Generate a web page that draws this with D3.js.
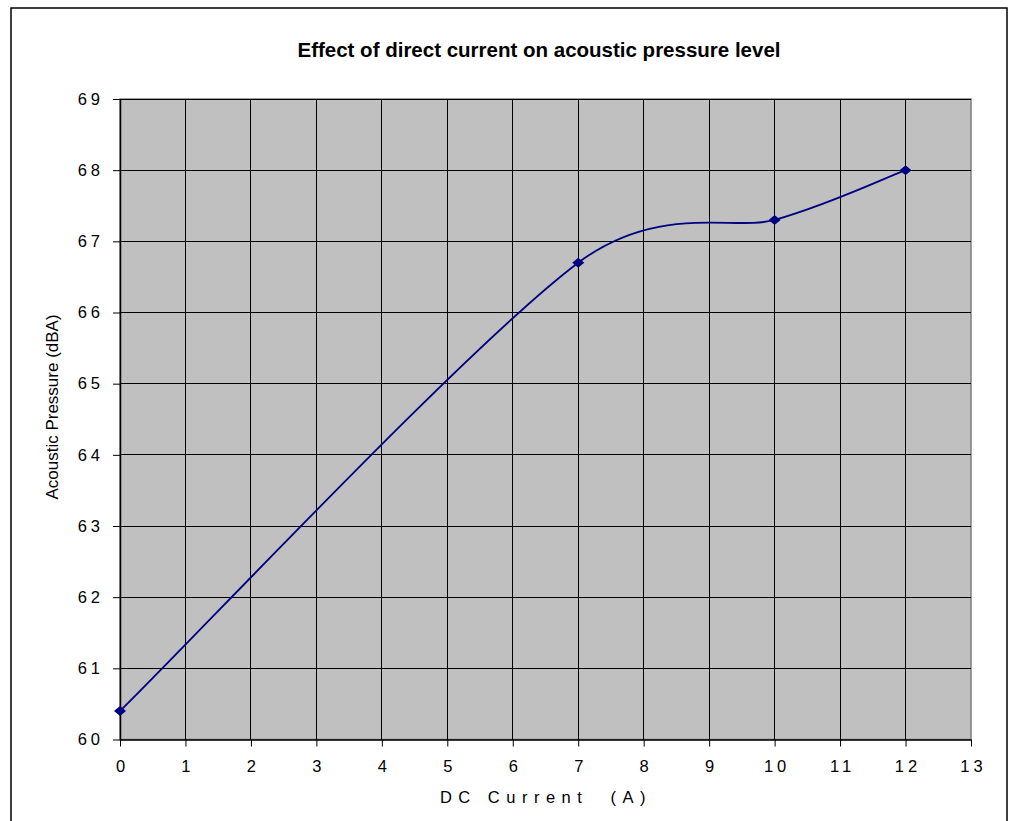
<!DOCTYPE html>
<html>
<head>
<meta charset="utf-8">
<script src="https://cdn.jsdelivr.net/npm/d3@7"></script>
<style>
  body { margin: 0; background: #fff; }
  text { font-family: "Liberation Sans", Arial, sans-serif; fill: #000; }
</style>
</head>
<body>
<svg id="chart" width="1016" height="821"></svg>
<script>
// data
const currents = [0, 7, 10, 12];
const pressures = [60.4, 66.7, 67.3, 68.0];
const xTicks = d3.range(0, 14);
const yTicks = d3.range(60, 70);

const svg = d3.select('#chart');
const plot = { left: 120, top: 99, right: 971, bottom: 739.5 };

const x = d3.scaleLinear().domain([0, 13]).range([plot.left, plot.right]);
const y = d3.scaleLinear().domain([60, 69]).range([plot.bottom, plot.top]);

//  outer frame
svg.append('rect').attr('x', 11).attr('y', 8).attr('width', 996).attr('height', 830)
    .attr('fill', 'white').attr('stroke', '#000').attr('stroke-width', 1.5);

//  title
svg.append('text').attr('x', 539).attr('y', 57).attr('text-anchor', 'middle')
    .style('font-size', '20.5px').style('font-weight', 'bold')
    .text('Effect of direct current on acoustic pressure level');

//  plot background
svg.append('rect').attr('x', plot.left).attr('y', plot.top)
    .attr('width', plot.right - plot.left).attr('height', plot.bottom - plot.top)
    .attr('fill', '#c0c0c0').attr('stroke', '#808080').attr('stroke-width', 1.5);

//  grid
const grid = svg.append('g').attr('stroke', '#000').attr('stroke-width', 1).attr('shape-rendering', 'crispEdges');
grid.selectAll('line.v').data(xTicks.slice(1, -1)).join('line').attr('class', 'v')
    .attr('x1', d => x(d)).attr('x2', d => x(d)).attr('y1', plot.top).attr('y2', plot.bottom);
grid.selectAll('line.h').data(yTicks.slice(1)).join('line').attr('class', 'h')
    .attr('x1', plot.left).attr('x2', plot.right).attr('y1', d => y(d)).attr('y2', d => y(d));

//  axes
const xAxis = d3.axisBottom(x).tickValues(xTicks).tickSize(7).tickSizeOuter(0).tickPadding(14);
const gx = svg.append('g').attr('transform', `translate(0,${plot.bottom})`).call(xAxis);
const yAxis = d3.axisLeft(y).tickValues(yTicks).tickSize(7).tickSizeOuter(0).tickPadding(9);
const gy = svg.append('g').attr('transform', `translate(${plot.left},0)`).call(yAxis);

[gx, gy].forEach(g => {
    g.select('.domain').attr('stroke', '#000').attr('stroke-width', 1.5);
    g.selectAll('.tick line').attr('stroke', '#000');
    g.selectAll('.tick text').style('font-family', '"Liberation Sans", Arial, sans-serif')
        .style('font-size', '16.5px').attr('fill', '#000').style('letter-spacing', '4px');
});
gx.selectAll('.tick text').attr('dx', '2px');

//  axis titles
svg.append('text').attr('x', 546).attr('y', 803).attr('text-anchor', 'middle')
    .style('font-size', '16.5px').style('letter-spacing', '6.5px').style('white-space', 'pre')
    .text('DC Current  (A)');
svg.append('text').attr('transform', 'translate(58,407) rotate(-90)').attr('text-anchor', 'middle')
    .style('font-size', '17px').text('Acoustic Pressure (dBA)');

//  Excel-style smoothed line: bezier control points from neighbours, shortened on long chords
const pts = currents.map((c, i) => [x(c), y(pressures[i])]);
const dist = (a, b) => Math.hypot(b[0] - a[0], b[1] - a[1]);
const curve = d3.path();
curve.moveTo(pts[0][0], pts[0][1]);
for (let i = 0; i < pts.length - 1; i++) {
    const p0 = pts[Math.max(i - 1, 0)], p1 = pts[i], p2 = pts[i + 1], p3 = pts[Math.min(i + 2, pts.length - 1)];
    const d02 = dist(p0, p2), d12 = dist(p1, p2), d13 = dist(p1, p3);
    let f1 = 1 / 6, f2 = 1 / 6;
    const b1 = d02 / 6 >= d12 / 2, b2 = d13 / 6 >= d12 / 2;
    if (b1 && b2) { f1 = d12 / d02 / 2; f2 = d12 / d13 / 2; }
    else if (b1) { f1 = f2 = d12 / d02 / 2; }
    else if (b2) { f1 = f2 = d12 / d13 / 2; }
    curve.bezierCurveTo(
        p1[0] + (p2[0] - p0[0]) * f1, p1[1] + (p2[1] - p0[1]) * f1,
        p2[0] - (p3[0] - p1[0]) * f2, p2[1] - (p3[1] - p1[1]) * f2,
        p2[0], p2[1]);
}
svg.append('path').attr('d', curve.toString())
    .attr('fill', 'none').attr('stroke', '#000080').attr('stroke-width', 1.8);

svg.selectAll('path.marker').data(pts).join('path').attr('class', 'marker')
    .attr('transform', d => `translate(${d[0]},${d[1]})`)
    .attr('d', 'M0,-5L6,0L0,5L-6,0Z')
    .attr('fill', '#000080');
</script>
</body>
</html>
